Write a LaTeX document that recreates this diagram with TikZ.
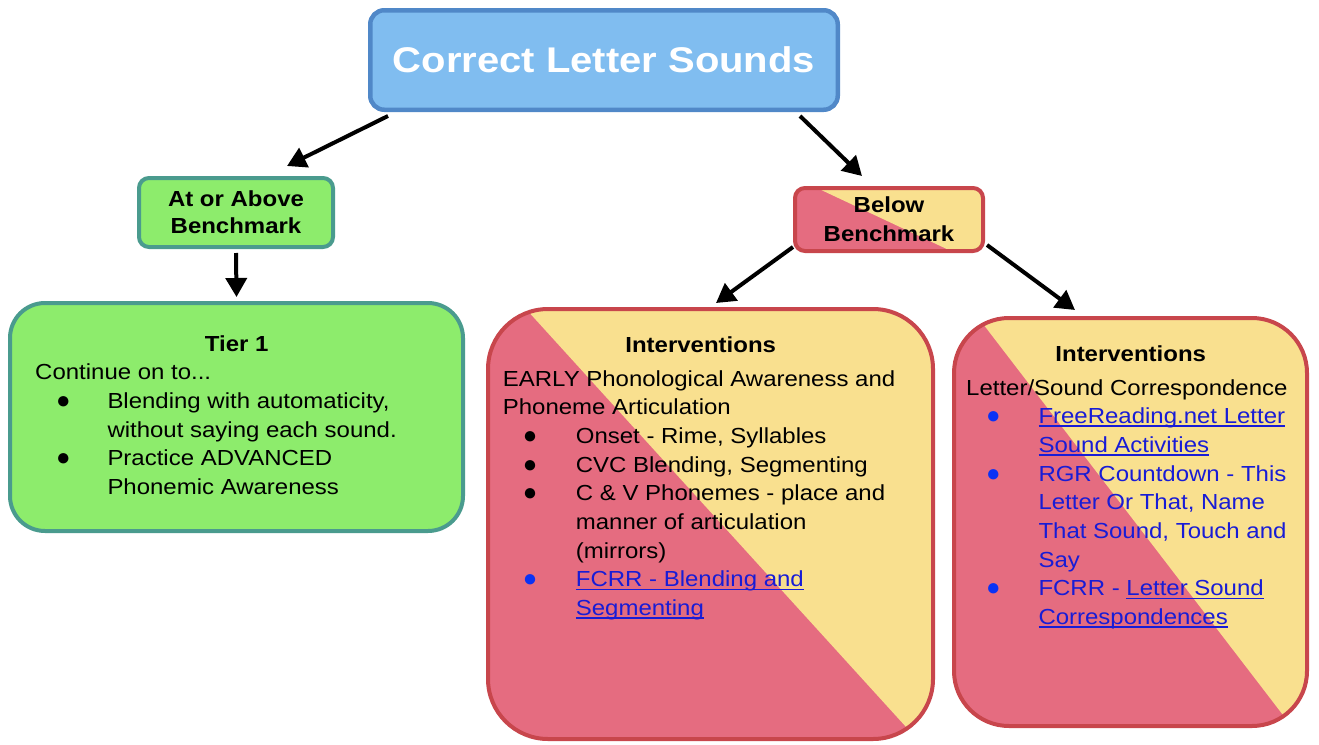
\documentclass[tikz,border=0pt]{standalone}
\usepackage{fontspec}
\setmainfont{Liberation Sans}[FakeStretch=1.1]
\newfontfamily\titlefont{Liberation Sans}[FakeStretch=1.12]
\newfontfamily\dotfont{Liberation Sans}
\usetikzlibrary{arrows.meta}
% underlined link text: box the text, then a rule under it
\newsavebox{\ulbox}
\newcommand{\ulink}[1]{\sbox{\ulbox}{#1}\rlap{\usebox{\ulbox}}\rule[-3.2pt]{\wd\ulbox}{1.5pt}}

\definecolor{topfill}{HTML}{80BDF0}
\definecolor{topline}{HTML}{5088C8}
\definecolor{grfill}{HTML}{8DEC6C}
\definecolor{grline}{HTML}{4A9B8E}
\definecolor{redfill}{HTML}{E56C80}
\definecolor{yelfill}{HTML}{F9E08F}
\definecolor{redline}{HTML}{C8464C}
\definecolor{linkblue}{RGB}{24,28,214}
\definecolor{bulblue}{RGB}{10,50,245}

\begin{document}
\begin{tikzpicture}[x=1pt,y=-1pt,
  bluebox/.style={draw=topline, fill=topfill, line width=4.5pt, rounded corners=14pt, inner sep=0pt},
  greenbox/.style={draw=grline, fill=grfill, line width=4pt, inner sep=0pt},
  splitbox/.style={draw=redline, fill=redfill, line width=4pt, inner sep=0pt},
  yelhalf/.style={fill=yelfill, sharp corners},
  body/.style={font=\fontsize{21.8}{28.7}\selectfont},
  txt/.style={body, anchor=base west, inner sep=0pt},
  hd/.style={anchor=base, inner sep=0pt, font=\bfseries\fontsize{21.8}{28.7}\selectfont},
  bul/.style={anchor=base, inner sep=0pt, text height=12pt, text depth=0pt,
              font=\dotfont\fontsize{24}{24}\selectfont},
  bbul/.style={bul, text=bulblue},
  link/.style={txt, text=linkblue},
  arr/.style={line width=4pt, -{Triangle[length=19pt,width=21pt]}}
]
\useasboundingbox (0,0) rectangle (1319,744);

% ---- boxes ----
\node[bluebox, minimum width=467.5pt, minimum height=99.5pt, text=white,
      font=\titlefont\bfseries\fontsize{35.7}{40}\selectfont] (top) at (604,60) {Correct Letter Sounds};

\node[greenbox, rounded corners=10pt, minimum width=194pt, minimum height=69pt, align=center,
      font=\bfseries\fontsize{21.8}{27}\selectfont] (above) at (236,212.5) {At or Above\\Benchmark};

\node[splitbox, rounded corners=10pt, minimum width=188pt, minimum height=63pt, align=center,
      font=\bfseries\fontsize{21.8}{29}\selectfont,
      path picture={\fill[yelhalf] ([xshift=22pt]path picture bounding box.north west)
        -- ([xshift=-32pt]path picture bounding box.south east)
        -- (path picture bounding box.south east)
        -- (path picture bounding box.north east) -- cycle;}] (below) at (889,219.5) {Below\\Benchmark};

\node[greenbox, rounded corners=35pt, minimum width=453pt, minimum height=228pt] (tier) at (236.5,417) {};

\node[splitbox, rounded corners=60pt, minimum width=445pt, minimum height=430pt,
      path picture={\fill[yelhalf] ([xshift=38pt]path picture bounding box.north west)
        -- ([xshift=-16pt]path picture bounding box.south east)
        -- (path picture bounding box.south east)
        -- (path picture bounding box.north east) -- cycle;}] (intA) at (710.5,524) {};

\node[splitbox, rounded corners=55pt, minimum width=353pt, minimum height=408pt,
      path picture={\fill[yelhalf] ([xshift=24.5pt]path picture bounding box.north west)
        -- ([xshift=-15.6pt]path picture bounding box.south east)
        -- (path picture bounding box.south east)
        -- (path picture bounding box.north east) -- cycle;}] (intB) at (1130.5,522) {};

% ---- connectors ----
\draw[arr] ([xshift=-216pt,yshift=-4pt]top.south) -- ([xshift=51pt,yshift=10pt]above.north);
\draw[arr] ([xshift=196pt,yshift=-4pt]top.south) -- ([xshift=-27pt,yshift=10pt]below.north);
\draw[arr] ([yshift=-4pt]above.south) -- ([yshift=4pt]tier.north);
\draw[arr] ([yshift=6pt]below.south west) -- ([xshift=5.5pt,yshift=4pt]intA.north);
\draw[arr] ([xshift=2pt,yshift=8pt]below.south east) -- ([xshift=-55.5pt,yshift=6pt]intB.north);

% ---- Tier 1 text ----
\node[hd] (tierH) at (236.7,351) {Tier 1};
\node[txt] (tierA) at (35,379.7) {Continue on to...};
\node[bul] (tierB0) at (63.3,408.4) {●};
\node[txt] (tierB) at (107.3,408.4) {Blending with automaticity,};
\node[txt] (tierC) at (107.3,437.1) {without saying each sound.};
\node[bul] (tierD0) at (63.3,465.8) {●};
\node[txt] (tierD) at (107.3,465.8) {Practice ADVANCED};
\node[txt] (tierE) at (107.3,494.5) {Phonemic Awareness};

% ---- first interventions text ----
\node[hd] (aH) at (700.7,352.7) {Interventions};
\node[txt] (aA) at (502.7,386) {EARLY Phonological Awareness and};
\node[txt] (aB) at (502.7,414.7) {Phoneme Articulation};
\node[bul] (aC0) at (530,443.4) {●};
\node[txt] (aC) at (575.7,443.4) {Onset - Rime, Syllables};
\node[bul] (aD0) at (530,472.1) {●};
\node[txt] (aD) at (575.7,472.1) {CVC Blending, Segmenting};
\node[bul] (aE0) at (530,500.8) {●};
\node[txt] (aE) at (575.7,500.8) {C \& V Phonemes - place and};
\node[txt] (aF) at (575.7,529.5) {manner of articulation};
\node[txt] (aG) at (575.7,558.2) {(mirrors)};
\node[bbul] (aH0) at (530,586.9) {●};
\node[link] (aI) at (575.7,586.9) {\ulink{FCRR - Blending and}};
\node[link] (aJ) at (575.7,615.6) {\ulink{Segmenting}};

% ---- second interventions text ----
\node[hd] (bH) at (1130.7,361.7) {Interventions};
\node[txt] (bA) at (966,395) {Letter/Sound Correspondence};
\node[bbul] (bB0) at (993.3,423.7) {●};
\node[link] (bB) at (1038.3,423.7) {\ulink{FreeReading.net Letter}};
\node[link] (bC) at (1038.3,452.4) {\ulink{Sound Activities}};
\node[bbul] (bD0) at (993.3,481.1) {●};
\node[link] (bD) at (1038.3,481.1) {RGR Countdown - This};
\node[link] (bE) at (1038.3,509.8) {Letter Or That, Name};
\node[link] (bF) at (1038.3,538.5) {That Sound, Touch and};
\node[link] (bG) at (1038.3,567.2) {Say};
\node[bbul] (bH0) at (993.3,595.9) {●};
\node[link] (bI) at (1038.3,595.9) {FCRR - \ulink{Letter Sound}};
\node[link] (bJ) at (1038.3,624.6) {\ulink{Correspondences}};
\end{tikzpicture}
\end{document}
